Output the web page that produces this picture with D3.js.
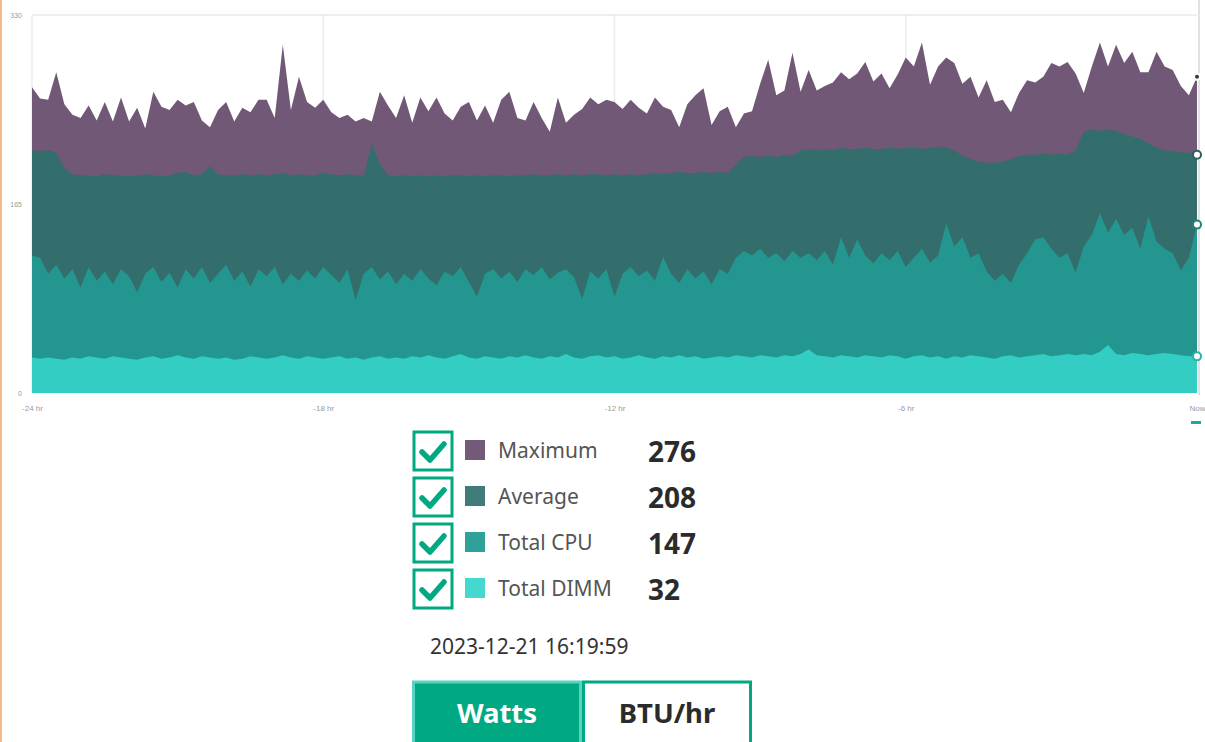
<!DOCTYPE html>
<html>
<head>
<meta charset="utf-8">
<script src="https://cdn.jsdelivr.net/npm/d3@7"></script>
<style>
  html, body { margin: 0; padding: 0; background: #fff; }
  body { width: 1205px; height: 742px; overflow: hidden; }
  svg { display: block; font-family: "Noto Sans", "Lato", sans-serif; }
</style>
</head>
<body>
<div id="chart"></div>
<script>
// power history, one reading every 10 minutes over the last 24 hours (watts)
var maximumValues = [
  267, 257, 256, 280, 252, 243, 240, 251, 238, 254, 237, 258, 237, 249, 231, 263, 250, 247, 256, 251,
  254, 238, 232, 247, 254, 237, 249, 245, 256, 256, 240, 304, 247, 276, 254, 249, 256, 245, 240, 243,
  237, 240, 237, 263, 251, 240, 260, 236, 258, 246, 258, 244, 238, 250, 254, 238, 251, 236, 256, 263,
  240, 238, 254, 240, 228, 258, 236, 243, 248, 258, 252, 256, 254, 248, 256, 249, 244, 258, 250, 247,
  232, 252, 260, 266, 234, 246, 250, 232, 244, 246, 270, 291, 260, 264, 297, 263, 282, 264, 268, 271,
  280, 274, 279, 289, 272, 279, 266, 278, 293, 285, 306, 269, 285, 293, 288, 270, 276, 258, 273, 254,
  256, 245, 262, 273, 271, 276, 288, 285, 289, 279, 262, 285, 306, 285, 304, 288, 298, 280, 280, 298,
  285, 282, 268, 260, 276
];
var averageValues = [
  212, 211, 212, 210, 196, 191, 190, 190, 189, 191, 190, 190, 189, 190, 191, 190, 189, 190, 192, 193,
  190, 191, 198, 191, 190, 190, 191, 190, 191, 190, 191, 192, 190, 191, 190, 190, 192, 191, 190, 191,
  190, 189, 218, 200, 190, 189, 190, 189, 190, 189, 190, 189, 190, 190, 189, 190, 189, 190, 190, 189,
  190, 190, 191, 190, 190, 191, 190, 191, 190, 191, 191, 190, 191, 190, 191, 190, 191, 192, 191, 192,
  193, 192, 192, 193, 192, 193, 192, 199, 206, 207, 206, 207, 206, 208, 207, 212, 213, 212, 213, 212,
  214, 213, 213, 214, 213, 213, 214, 213, 214, 214, 213, 214, 215, 214, 212, 207, 204, 202, 201, 201,
  202, 204, 207, 208, 208, 209, 208, 209, 208, 212, 228, 230, 229, 230, 229, 226, 224, 222, 218, 214,
  212, 211, 210, 210, 208
];
var cpuValues = [
  120, 118, 104, 112, 100, 108, 92, 110, 98, 106, 95, 108, 102, 88, 104, 110, 97, 105, 92, 108,
  100, 110, 96, 104, 112, 98, 106, 93, 108, 102, 110, 95, 104, 98, 107, 100, 110, 103, 96, 108,
  81, 104, 110, 99, 106, 95, 104, 98, 108, 100, 94, 106, 102, 110, 97, 84, 104, 108, 100, 106,
  97, 108, 103, 110, 99, 105, 108, 101, 82, 106, 100, 108, 84, 104, 110, 102, 107, 98, 119, 104,
  96, 108, 100, 106, 95, 108, 104, 118, 124, 120, 126, 118, 122, 115, 124, 118, 122, 116, 124, 112,
  136, 118, 134, 120, 113, 122, 116, 124, 110, 118, 126, 114, 120, 148, 128, 136, 118, 122, 106, 98,
  104, 96, 112, 122, 134, 136, 126, 118, 122, 105, 128, 138, 157, 140, 152, 138, 144, 126, 154, 132,
  126, 122, 107, 118, 147
];
var dimmValues = [
  31, 30, 31, 30, 29, 31, 30, 32, 31, 30, 32, 31, 30, 29, 31, 32, 30, 31, 33, 31,
  30, 32, 31, 30, 31, 29, 30, 32, 31, 30, 31, 33, 31, 30, 32, 31, 30, 31, 32, 30,
  31, 29, 31, 32, 30, 31, 30, 32, 31, 33, 31, 30, 32, 34, 31, 30, 32, 31, 30, 32,
  31, 33, 31, 30, 32, 31, 34, 31, 30, 32, 33, 31, 32, 30, 31, 33, 31, 30, 32, 31,
  33, 31, 32, 30, 31, 32, 31, 33, 32, 31, 33, 32, 31, 33, 32, 34, 38, 33, 32, 31,
  33, 32, 31, 33, 32, 31, 33, 32, 30, 32, 33, 31, 32, 30, 32, 31, 33, 32, 31, 30,
  32, 33, 31, 32, 33, 34, 32, 33, 34, 33, 34, 33, 36, 42, 34, 33, 35, 34, 33, 34,
  35, 34, 33, 32, 32
];

var seriesNames = ["Maximum", "Average", "Total CPU", "Total DIMM"];
var seriesColors = ["#715876", "#346e6c", "#23978f", "#33cdc4"];
var swatchColors = ["#725a78", "#3f7b78", "#2fa199", "#45d8cf"];
var yTicks = [0, 165, 330];
var xTickHours = [-24, -18, -12, -6, 0];
var xTickLabels = ["-24 hr", "-18 hr", "-12 hr", "-6 hr", "Now"];
var timestamp = "2023-12-21 16:19:59";
var unitButtons = ["Watts", "BTU/hr"];

var allSeries = [maximumValues, averageValues, cpuValues, dimmValues];
var hoursAgo = maximumValues.map(function (d, i) { return -24 + i * 24 / (maximumValues.length - 1); });

var svgWidth = 1205, svgHeight = 742;
var plot = { left: 32, right: 1197, top: 15, bottom: 393 };

var svg = d3.select("#chart").append("svg")
  .attr("width", svgWidth)
  .attr("height", svgHeight);

// peach page edge on the left
svg.append("rect").attr("x", 0).attr("y", 0).attr("width", 2).attr("height", svgHeight).attr("fill", "#f6b98a");

var x = d3.scaleLinear().domain([-24, 0]).range([plot.left, plot.right]);
var y = d3.scaleLinear().domain([0, 330]).range([plot.bottom, plot.top]);

// grid
var grid = svg.append("g");
grid.selectAll("line.v")
  .data(xTickHours.slice(1, -1))
  .enter().append("line")
  .attr("x1", function (d) { return x(d); }).attr("x2", function (d) { return x(d); })
  .attr("y1", plot.top).attr("y2", plot.bottom)
  .attr("stroke", "#ececec").attr("stroke-width", 1.5);
grid.append("line")
  .attr("x1", plot.left).attr("x2", plot.right)
  .attr("y1", y(330)).attr("y2", y(330))
  .attr("stroke", "#e8e8e8").attr("stroke-width", 1.5);
grid.append("line")
  .attr("x1", plot.left).attr("x2", plot.left)
  .attr("y1", plot.top).attr("y2", plot.bottom)
  .attr("stroke", "#eeeeee").attr("stroke-width", 1.5);
grid.append("line")
  .attr("x1", plot.right + 2).attr("x2", plot.right + 2)
  .attr("y1", 0).attr("y2", plot.bottom + 2)
  .attr("stroke", "#d9d9d9").attr("stroke-width", 1.5);

// areas drawn on top of each other, largest first
var area = d3.area()
  .x(function (d, i) { return x(hoursAgo[i]); })
  .y0(y(0))
  .y1(function (d) { return y(d); })
  .curve(d3.curveLinear);

svg.append("g").selectAll("path")
  .data(allSeries)
  .enter().append("path")
  .attr("d", area)
  .attr("fill", function (d, i) { return seriesColors[i]; });

// end markers
svg.append("g").selectAll("circle")
  .data(allSeries)
  .enter().append("circle")
  .attr("cx", x(0))
  .attr("cy", function (d) { return y(d[d.length - 1]); })
  .attr("r", function (d, i) { return i === 0 ? 3 : 4; })
  .attr("fill", function (d, i) { return i === 0 ? "#3a3a3a" : "#fff"; })
  .attr("stroke", function (d, i) { return i === 0 ? "#fff" : d3.color(seriesColors[i]).darker(0.4); })
  .attr("stroke-width", 2);

// axes
var yAxis = d3.axisLeft(y).tickValues(yTicks).tickSize(0).tickPadding(6);
svg.append("g")
  .attr("transform", "translate(" + (plot.left - 4) + ",0)")
  .call(yAxis)
  .call(function (g) { g.select(".domain").remove(); })
  .selectAll("text")
  .attr("fill", "#9a9a9a").style("font-size", "7px");

var xAxis = d3.axisBottom(x).tickValues(xTickHours).tickSize(0).tickPadding(12)
  .tickFormat(function (d, i) { return xTickLabels[i]; });
svg.append("g")
  .attr("transform", "translate(0," + plot.bottom + ")")
  .call(xAxis)
  .call(function (g) { g.select(".domain").remove(); })
  .selectAll("text")
  .attr("fill", "#9a9a9a").style("font-size", "8px");

svg.append("rect").attr("x", 1191).attr("y", 421).attr("width", 10).attr("height", 3).attr("fill", "#1fa89a");

// legend
var legend = svg.append("g");
var rowY = d3.scaleLinear().domain([0, 3]).range([451, 589]);
var rows = legend.selectAll("g.row")
  .data(seriesNames)
  .enter().append("g")
  .attr("transform", function (d, i) { return "translate(0," + rowY(i) + ")"; });

rows.append("rect")
  .attr("x", 414).attr("y", -19).attr("width", 38).attr("height", 38)
  .attr("fill", "#fff").attr("stroke", "#01a982").attr("stroke-width", 3);
rows.append("path")
  .attr("d", "M422,1 L430,9 L444,-7")
  .attr("fill", "none").attr("stroke", "#01a982").attr("stroke-width", 5.5)
  .attr("stroke-linecap", "round").attr("stroke-linejoin", "round");
rows.append("rect")
  .attr("x", 465).attr("y", -11).attr("width", 20).attr("height", 20)
  .attr("fill", function (d, i) { return swatchColors[i]; });
rows.append("text")
  .attr("x", 498).attr("y", 7)
  .attr("fill", "#555").style("font-size", "21px")
  .text(function (d) { return d; });
rows.append("text")
  .attr("x", 648).attr("y", 11)
  .attr("fill", "#2b2b2b").style("font-size", "28px").style("font-weight", "bold")
  .text(function (d, i) { var s = allSeries[i]; return s[s.length - 1]; });

svg.append("text")
  .attr("x", 430).attr("y", 654)
  .attr("fill", "#333").style("font-size", "21px")
  .text(timestamp);

// unit toggle
var btnX = d3.scaleBand().domain(unitButtons).range([412, 752]);
var btns = svg.append("g").selectAll("g")
  .data(unitButtons)
  .enter().append("g");
btns.append("rect")
  .attr("x", function (d) { return btnX(d) + 1.5; })
  .attr("y", 682)
  .attr("width", btnX.bandwidth() - 3)
  .attr("height", 70)
  .attr("fill", function (d, i) { return i === 0 ? "#01a982" : "#fff"; })
  .attr("stroke", function (d, i) { return i === 0 ? "#58d3c3" : "#01a982"; })
  .attr("stroke-width", 3);
btns.append("text")
  .attr("x", function (d) { return btnX(d) + btnX.bandwidth() / 2; })
  .attr("y", 723)
  .attr("text-anchor", "middle")
  .attr("fill", function (d, i) { return i === 0 ? "#fff" : "#2b2b2b"; })
  .style("font-size", "27.5px").style("font-weight", "bold")
  .text(function (d) { return d; });
</script>
</body>
</html>
